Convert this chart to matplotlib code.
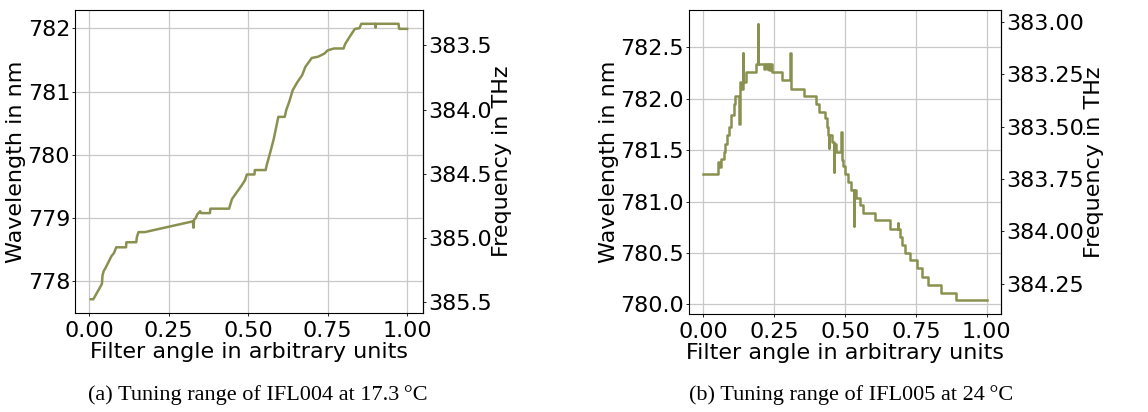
import numpy as np
import matplotlib
matplotlib.use("Agg")
from matplotlib import pyplot as plt

C_NM_THZ = 299792.458  # c in nm*THz

# (a) IFL004 at 17.3 C (corners of the trace)
angle_a = [0.005, 0.013, 0.040, 0.042, 0.046, 0.050, 0.055, 0.060, 0.066, 0.070,
           0.078, 0.085, 0.116, 0.117, 0.148, 0.150, 0.155, 0.175, 0.326, 0.328,
           0.330, 0.335, 0.340, 0.349, 0.352, 0.380, 0.381, 0.440, 0.449, 0.460,
           0.470, 0.480, 0.490, 0.496, 0.520, 0.521, 0.555, 0.559, 0.569, 0.580,
           0.595, 0.615, 0.620, 0.630, 0.640, 0.655, 0.670, 0.680, 0.700, 0.720,
           0.740, 0.750, 0.770, 0.800, 0.805, 0.815, 0.825, 0.836, 0.850, 0.856,
           0.900, 0.901, 0.902, 0.973, 0.975, 1.000]
wl_a = [777.72, 777.72, 777.96, 778.10, 778.17, 778.20, 778.25, 778.30, 778.36, 778.40,
        778.45, 778.54, 778.54, 778.62, 778.62, 778.70, 778.78, 778.78, 778.95, 778.85,
        778.98, 779.00, 779.06, 779.11, 779.08, 779.08, 779.15, 779.15, 779.30, 779.38,
        779.45, 779.52, 779.60, 779.69, 779.69, 779.76, 779.76, 779.85, 780.03, 780.24,
        780.60, 780.60, 780.71, 780.85, 781.02, 781.15, 781.26, 781.39, 781.53, 781.55,
        781.60, 781.65, 781.68, 781.68, 781.75, 781.83, 781.91, 781.99, 782.00, 782.07,
        782.07, 782.01, 782.07, 782.07, 781.99, 781.99]

# (b) IFL005 at 24 C, start of each step (drawn as steps-post)
angle_b = [0.000, 0.053, 0.058, 0.064, 0.072, 0.078, 0.085, 0.091, 0.099, 0.107,
           0.113, 0.127, 0.128, 0.134, 0.140, 0.141, 0.152, 0.187, 0.193, 0.194,
           0.215, 0.218, 0.225, 0.228, 0.232, 0.235, 0.244, 0.278, 0.307, 0.308,
           0.354, 0.399, 0.407, 0.428, 0.436, 0.440, 0.443, 0.444, 0.454, 0.460,
           0.462, 0.469, 0.487, 0.488, 0.493, 0.501, 0.511, 0.522, 0.532, 0.533,
           0.538, 0.552, 0.564, 0.605, 0.660, 0.687, 0.688, 0.693, 0.701, 0.711,
           0.728, 0.755, 0.773, 0.791, 0.838, 0.890, 1.000]
wl_b = [781.27, 781.38, 781.34, 781.41, 781.48, 781.56, 781.65, 781.73, 781.84, 781.95,
        782.03, 781.75, 782.16, 782.10, 782.45, 782.16, 782.26, 782.34, 782.73, 782.34,
        782.29, 782.34, 782.29, 782.34, 782.28, 782.34, 782.26, 782.18, 782.45, 782.10,
        782.03, 781.95, 781.87, 781.81, 781.73, 781.65, 781.52, 781.65, 781.58, 781.29,
        781.56, 781.48, 781.68, 781.40, 781.35, 781.27, 781.19, 781.11, 780.76, 781.11,
        781.03, 780.97, 780.89, 780.82, 780.73, 780.79, 780.73, 780.65, 780.58, 780.50,
        780.43, 780.35, 780.27, 780.19, 780.11, 780.04, 780.04]

freq_ticks_a = [383.5, 384.0, 384.5, 385.0, 385.5]
freq_ticks_b = [383.0, 383.25, 383.5, 383.75, 384.0, 384.25]

captions = [u"(a) Tuning range of IFL004 at 17.3\u2009\u00b0C",
            u"(b) Tuning range of IFL005 at 24\u2009\u00b0C"]

line_color = "#8a9150"
plt.rcParams["font.size"] = 16
plt.rcParams["xtick.major.size"] = 2
plt.rcParams["ytick.major.size"] = 2
plt.rcParams["xtick.major.width"] = 0.6
plt.rcParams["ytick.major.width"] = 0.6
plt.rcParams["xtick.major.pad"] = 3.5
plt.rcParams["ytick.major.pad"] = 1.5
plt.rcParams["axes.linewidth"] = 0.8


def to_thz(wl):
    wl = np.asarray(wl, dtype=float)
    return C_NM_THZ / np.where(wl == 0, 1e-9, wl)


fig = plt.figure(figsize=(11.48, 4.12), dpi=100)

boxes = [[0.0653, 0.2403, 0.3031, 0.7354],
         [0.6002, 0.2379, 0.2718, 0.7379]]
datasets = [(angle_a, wl_a, "default", freq_ticks_a, "%.1f"),
            (angle_b, wl_b, "steps-post", freq_ticks_b, "%.2f")]
cap_x = [0.2245, 0.741]

for box, (xs, ys, ds, fticks, ffmt), cap, cx in zip(boxes, datasets, captions, cap_x):
    ax = fig.add_axes(box)
    ax.plot(xs, ys, color=line_color, lw=1.8, drawstyle=ds)
    ax.grid(True, color="#c8c8c8", lw=0.9)
    ax.set_xticks([0.0, 0.25, 0.5, 0.75, 1.0])
    ax.set_xlabel("Filter angle in arbitrary units", labelpad=1)
    ax.set_ylabel("Wavelength in nm", labelpad=1)
    sec = ax.secondary_yaxis("right", functions=(to_thz, to_thz))
    sec.set_yticks(fticks)
    sec.set_yticklabels([ffmt % t for t in fticks])
    sec.set_ylabel("Frequency in THz", labelpad=0)
    fig.text(cx, 0.041, cap, ha="center", va="center",
             family=["Liberation Serif", "DejaVu Serif"], fontsize=16)

fig.savefig("out.png", dpi=100)
